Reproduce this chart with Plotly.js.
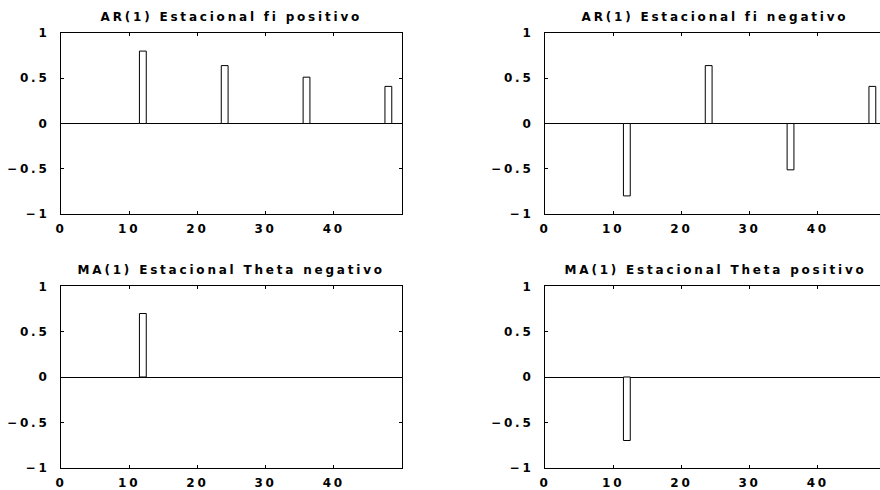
<!DOCTYPE html>
<html><head><meta charset="utf-8">
<script src="https://cdn.plot.ly/plotly-3.0.1.min.js"></script>
<style>
html,body{margin:0;padding:0;overflow:hidden;background:#fff;}
#chart text{letter-spacing:2.8px;}
</style></head><body>
<div id="chart"></div>
<script>
// Data (lags and autocorrelation values)
const lags = [12, 24, 36, 48];
const arPositivo = [0.8, 0.64, 0.512, 0.41];
const arNegativo = [-0.8, 0.64, -0.512, 0.41];
const maLags = [12];
const maThetaNegativo = [0.7];
const maThetaPositivo = [-0.7];
const titles = [
  'AR(1) Estacional fi positivo',
  'AR(1) Estacional fi negativo',
  'MA(1) Estacional Theta negativo',
  'MA(1) Estacional Theta positivo'
];
const xTickVals = [0, 10, 20, 30, 40];
const yTickVals = [-1, -0.5, 0, 0.5, 1];
const yTickText = ['\u22121', '\u22120.5', '0', '0.5', '1'];

const W = 890, H = 490;
const font = {family: 'DejaVu Sans, sans-serif', size: 12, color: '#000', weight: 'bold'};

function bar(x, y, xa, ya) {
  return {type: 'bar', x: x, y: y, width: 1, xaxis: xa, yaxis: ya,
    marker: {color: '#fff', line: {color: '#000', width: 1}}, hoverinfo: 'skip', showlegend: false};
}
const data = [
  bar(lags, arPositivo, 'x', 'y'),
  bar(lags, arNegativo, 'x2', 'y2'),
  bar(maLags, maThetaNegativo, 'x3', 'y3'),
  bar(maLags, maThetaPositivo, 'x4', 'y4')
];

function xax(dom, anchor) {
  return {domain: dom, anchor: anchor, range: [0, 50], tickvals: xTickVals, ticks: 'inside', ticklen: 3,
    tickcolor: '#000', showline: true, linecolor: '#000', linewidth: 1, mirror: 'allticks',
    showgrid: false, zeroline: false, tickfont: font, ticklabelstandoff: 4, fixedrange: true};
}
function yax(dom, anchor) {
  return {domain: dom, anchor: anchor, range: [-1, 1], tickvals: yTickVals, ticktext: yTickText,
    ticks: 'inside', ticklen: 3, tickcolor: '#000', showline: true, linecolor: '#000', linewidth: 1,
    mirror: 'allticks', showgrid: false, zeroline: true, zerolinecolor: '#000', zerolinewidth: 1,
    tickfont: font, ticklabelstandoff: 8, fixedrange: true};
}
const xL = [61 / W, 402 / W], xR = [545 / W, 886 / W];
const yT = [1 - 214 / H, 1 - 33 / H], yB = [1 - 467.7 / H, 1 - 286.3 / H];

const titleFont = {family: 'DejaVu Sans, sans-serif', size: 12, color: '#000', weight: 'bold'};
function ann(text, xc, ypx) {
  return {text: text, x: xc / W, y: 1 - ypx / H, xref: 'paper', yref: 'paper', showarrow: false,
    xanchor: 'center', yanchor: 'middle', font: titleFont};
}
const layout = {
  width: W, height: H, margin: {l: 0, r: 0, t: 0, b: 0},
  paper_bgcolor: '#fff', plot_bgcolor: '#fff', showlegend: false, bargap: 0,
  xaxis: xax(xL, 'y'), yaxis: yax(yT, 'x'),
  xaxis2: xax(xR, 'y2'), yaxis2: yax(yT, 'x2'),
  xaxis3: xax(xL, 'y3'), yaxis3: yax(yB, 'x3'),
  xaxis4: xax(xR, 'y4'), yaxis4: yax(yB, 'x4'),
  annotations: [
    ann(titles[0], 231.5, 17), ann(titles[1], 715, 17),
    ann(titles[2], 231.5, 270), ann(titles[3], 715, 270)
  ]
};
Plotly.newPlot('chart', data, layout, {displayModeBar: false, staticPlot: true});
</script></body></html>
